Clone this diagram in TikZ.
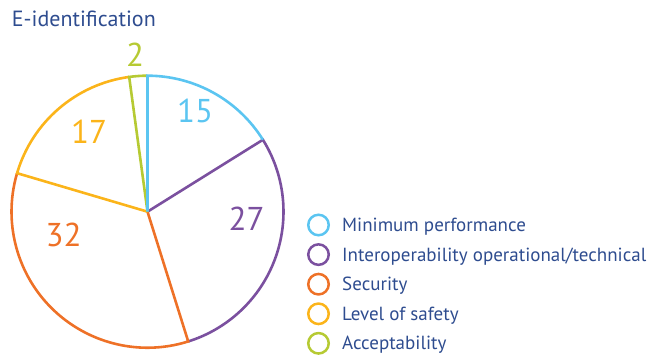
\documentclass[tikz,border=0pt]{standalone}
\usepackage{fontspec}
\setmainfont{PT Sans}
\definecolor{cblue}{HTML}{5BC5F1}
\definecolor{cpurple}{HTML}{7B509F}
\definecolor{corange}{HTML}{EE7127}
\definecolor{cyellow}{HTML}{FBB41A}
\definecolor{cgreen}{HTML}{B6CA33}
\definecolor{navy}{HTML}{2E4C8F}
\begin{document}
\begin{tikzpicture}[x=1pt,y=1pt,
  wedge/.style={line width=2.6pt,line join=miter},
  num/.style={inner sep=0pt,font=\fontsize{33}{33}\selectfont},
  legtext/.style={inner sep=0pt,anchor=base west,text=navy,font=\fontsize{19}{19}\selectfont},
  legcirc/.style={circle,draw,line width=2.5pt,minimum size=20.5pt,inner sep=0pt}]
\useasboundingbox (0,0) rectangle (648,355);
\coordinate (c) at (147.5,143.3);
\def\R{136}
\draw[wedge,cpurple] (c) -- ++(31.935:\R) arc[start angle=31.935,end angle=-72.581,radius=\R];
\draw[wedge,corange] (c) -- ++(-72.581:\R) arc[start angle=-72.581,end angle=-196.452,radius=\R];
\draw[wedge,cyellow] (c) -- ++(-196.452:\R) arc[start angle=-196.452,end angle=-262.258,radius=\R];
\draw[wedge,cgreen] (c) -- ++(-262.258:\R) arc[start angle=-262.258,end angle=-270,radius=\R];
\draw[wedge,cblue] (c) -- ++(90:\R) arc[start angle=90,end angle=31.935,radius=\R];
\node[num,text=cblue] (n15) at (195,355-111) {15};
\node[num,text=cpurple] (n27) at (246.5,355-218.5) {27};
\node[num,text=corange] (n32) at (63.5,355-234.5) {32};
\node[num,text=cyellow] (n17) at (89,355-131.5) {17};
\node[num,text=cgreen] (n2) at (135,355-55) {2};
\node[inner sep=0pt,anchor=base west,text=navy,font=\fontsize{22}{22}\selectfont] (title) at (11.7,355-26.7) {E-identification};
\node[legcirc,cblue] (l1) at (318.5,355-225) {};
\node[legcirc,cpurple] (l2) at (318.5,355-254.6) {};
\node[legcirc,corange] (l3) at (318.5,355-284.2) {};
\node[legcirc,cyellow] (l4) at (318.5,355-313.8) {};
\node[legcirc,cgreen] (l5) at (318.5,355-343.3) {};
\node[legtext] (t1) at (342,355-231.7) {Minimum performance};
\node[legtext] (t2) at (342,355-261.2) {Interoperability operational/technical};
\node[legtext] (t3) at (342,355-290.7) {Security};
\node[legtext] (t4) at (342,355-320.1) {Level of safety};
\node[legtext] (t5) at (342,355-349.5) {Acceptability};
\end{tikzpicture}
\end{document}
